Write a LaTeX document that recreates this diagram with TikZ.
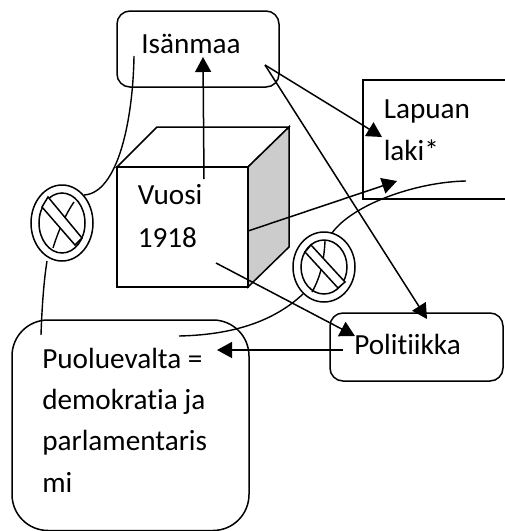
\documentclass[tikz,border=0pt]{standalone}
\usepackage{fontspec}
\setmainfont[Ligatures={NoRequired,NoCommon,NoContextual}]{Carlito}
\usetikzlibrary{arrows.meta}
\tikzset{
  every picture/.style={x=1pt,y=-1pt,line width=1.5pt},
  roundbox/.style={draw,fill=white,rounded corners=13pt,inner sep=0pt},
  label/.style={inner sep=0pt,anchor=base west,align=left,font=\fontsize{29.2}{41.5}\selectfont},
  conn/.style={draw,-{Triangle[length=15pt,width=16pt]}},
  cubeline/.style={draw,line join=miter},
  curveline/.style={draw,line width=1.4pt},
  ringshape/.style={draw,fill=white,even odd rule},
}
\begin{document}
\begin{tikzpicture}
\useasboundingbox (0,0) rectangle (505,531);
% boxes
\node[roundbox,minimum width=162pt,minimum height=76pt] (isanmaa) at (198,49) {};
\node[roundbox,minimum width=173pt,minimum height=68pt] (politiikka) at (416.5,347) {};
\path[draw,fill=white] (520,80) -- (363,80) -- (363,199) -- (520,199);
\node[roundbox,rounded corners=36pt,minimum width=237pt,minimum height=210.5pt] (puolue) at (130.5,425.25) {};
% cube
\path[cubeline,fill=white] (117,167) -- (157,127) -- (289,127) -- (248,167) -- cycle;
\path[cubeline,fill=black!20] (248,167) -- (289,127) -- (289,247) -- (248,287) -- cycle;
\path[cubeline,fill=white] (117,167) rectangle (248,287);
% labels
\node[label] (t1) at (140.5,53) {Isänmaa};
\node[label] (t2) at (137,204) {Vuosi};
\node[label] (t3) at (137,247) {1918};
\node[label] (t4) at (383,118) {Lapuan};
\node[label] (t5) at (383,160) {laki*};
\node[label] (t6) at (353.5,354) {Politiikka};
\node[label] (t7) at (41.5,368) {Puoluevalta =};
\node[label] (t8) at (41.5,409) {demokratia ja};
\node[label] (t9) at (41.5,450) {parlamentaris};
\node[label] (t10) at (41.5,492) {mi};
% connector ends
\coordinate (a1) at (204,179);
\coordinate (a2) at (203,57);
\coordinate (b1) at (265,65);
\coordinate (b2) at (382,137);
\coordinate (c2) at (427,319);
\coordinate (d1) at (248,231);
\coordinate (d2) at (397,181);
\coordinate (e1) at (216,263);
\coordinate (e2) at (355,336);
\coordinate (f1) at (343,350);
\coordinate (f2) at (217,350);
\path[conn] (a1) -- (a2);
\path[conn] (b1) -- (b2);
\path[conn] (b1) -- (c2);
\path[conn] (d1) -- (d2);
\path[conn] (e1) -- (e2);
\path[conn] (f1) -- (f2);
% prohibited connectors
\coordinate (g1) at (134,56);
\coordinate (g2) at (84,195);
\coordinate (g3) at (41,335);
\coordinate (h1) at (466,181);
\coordinate (h2) at (332,233);
\coordinate (h3) at (179,336);
\path[ringshape] (62,223) ellipse [x radius=31,y radius=38] (62,223) ellipse [x radius=23,y radius=30];
\path[ringshape] (324,267) ellipse [x radius=31,y radius=35] (324,267) ellipse [x radius=23,y radius=27];
\path[curveline] (g1) .. controls (133,120) and (118,193) .. (g2);
\path[curveline] (74,202) .. controls (65,215) and (58,232) .. (53,248);
\path[curveline] (47,261) .. controls (44,280) and (42,305) .. (g3);
\path[curveline] (h1) .. controls (415,182) and (352,205) .. (h2);
\path[curveline] (325,241) .. controls (324,262) and (320,278) .. (312,292);
\path[curveline] (303,294) .. controls (270,325) and (225,335) .. (h3);
% bars
\path[draw,fill=white] (48,197) -- (82,238) -- (75,245) -- (42,207) -- cycle;
\path[draw,fill=white] (311,245) -- (345,282) -- (338,288) -- (305,252) -- cycle;
\end{tikzpicture}
\end{document}
